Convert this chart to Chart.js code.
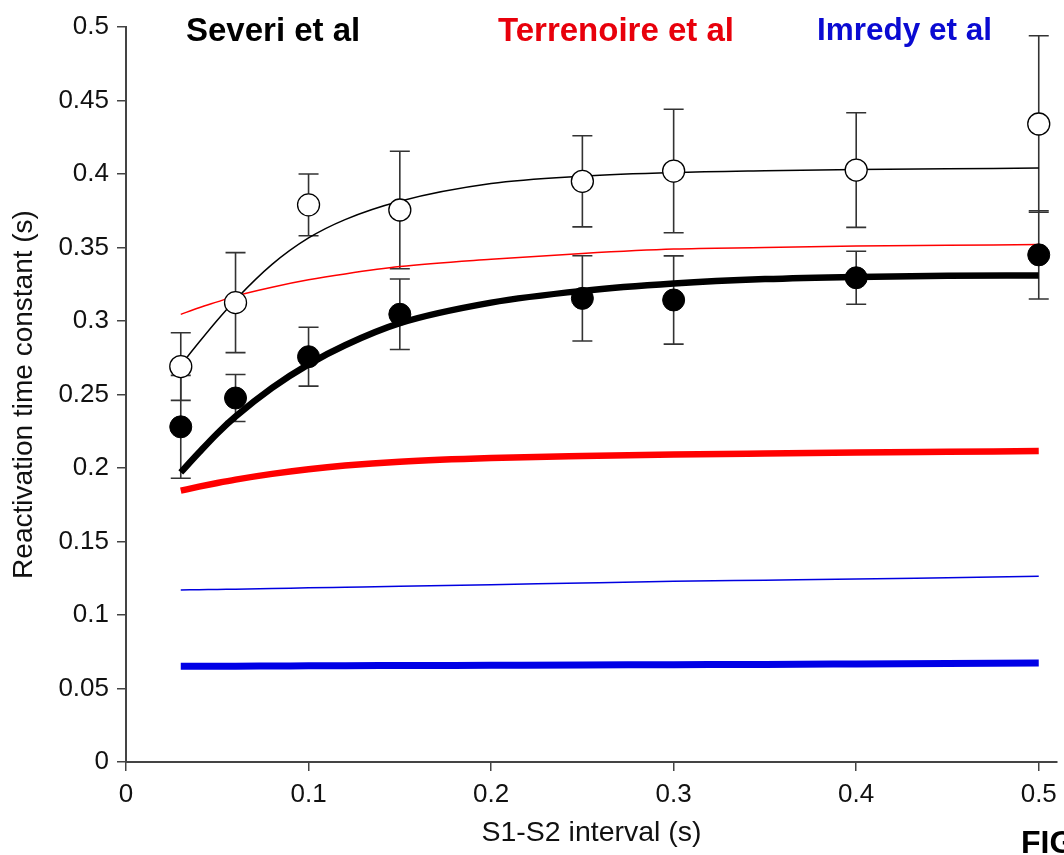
<!DOCTYPE html>
<html>
<head>
<meta charset="utf-8">
<script src="https://cdn.jsdelivr.net/npm/chart.js@4"></script>
<style>
  html, body { margin: 0; padding: 0; background: #fff; overflow: hidden; }
  #wrap { position: relative; width: 1064px; height: 855px; overflow: hidden; }
  .lbl { position: absolute; font: bold 33px "Liberation Sans", Arial, sans-serif; line-height: 33px; white-space: nowrap; }
</style>
</head>
<body>
<div id="wrap">
  <canvas id="chart" width="1064" height="855"></canvas>
  <div class="lbl" style="left:186px;top:13px;color:#000">Severi et al</div>
  <div class="lbl" style="left:498px;top:13px;color:#e8000b">Terrenoire et al</div>
  <div class="lbl" style="left:817px;top:13px;color:#0a0ad2;font-size:31.5px">Imredy et al</div>
  <div class="lbl" style="left:1021px;top:826px;color:#000;font-size:32px">FIG</div>
</div>
<script>
// measured points (S1-S2 interval, s)
const pointX = [0.03, 0.06, 0.1, 0.15, 0.25, 0.3, 0.4, 0.5]
const openMean = [0.269, 0.3125, 0.379, 0.3755, 0.395, 0.402, 0.4027, 0.434]
const openErr = [0.023, 0.034, 0.021, 0.040, 0.031, 0.042, 0.039, 0.060]
const filledMean = [0.228, 0.2476, 0.2757, 0.3046, 0.3154, 0.3143, 0.3294, 0.345]
const filledErr = [0.035, 0.016, 0.020, 0.024, 0.029, 0.030, 0.018, 0.030]

// fitted curves
const fitX = [0.03, 0.04, 0.05, 0.06, 0.08, 0.1, 0.12, 0.15, 0.2, 0.25, 0.3, 0.35, 0.4, 0.45, 0.5]
const severiThin = [0.270, 0.2855, 0.3005, 0.3145, 0.3385, 0.3565, 0.369, 0.3815, 0.3935, 0.3985, 0.401, 0.4022, 0.403, 0.4035, 0.404]
const severiThick = [0.197, 0.2105, 0.2235, 0.235, 0.2545, 0.2705, 0.2835, 0.2985, 0.3125, 0.3205, 0.3255, 0.3285, 0.330, 0.3307, 0.331]
const terrenoireThin = [0.3045, 0.309, 0.313, 0.317, 0.323, 0.328, 0.332, 0.337, 0.342, 0.346, 0.349, 0.350, 0.351, 0.3515, 0.352]
const terrenoireThick = [0.1846, 0.1873, 0.1898, 0.1921, 0.196, 0.1992, 0.2017, 0.2043, 0.2068, 0.2082, 0.2092, 0.2099, 0.2105, 0.211, 0.2115]
const imredyThin = [0.117, 0.1172, 0.1174, 0.1176, 0.118, 0.1185, 0.1189, 0.1195, 0.1206, 0.1218, 0.1229, 0.1237, 0.1245, 0.1254, 0.1263]
const imredyThick = [0.0651, 0.0651, 0.0652, 0.0652, 0.0653, 0.0654, 0.0655, 0.0656, 0.0658, 0.066, 0.0662, 0.0664, 0.0667, 0.067, 0.0673]

const xTicks = [0, 0.1, 0.2, 0.3, 0.4, 0.5]
const yTicks = [0, 0.05, 0.1, 0.15, 0.2, 0.25, 0.3, 0.35, 0.4, 0.45, 0.5]

const pts = (xs, ys) => xs.map((x, i) => ({ x, y: ys[i] }))
const font = "'Liberation Sans', Arial, sans-serif"

const curve = (data, color, width) => ({
  data: pts(fitX, data),
  showLine: true,
  borderColor: color,
  borderWidth: width,
  borderCapStyle: "butt",
  pointRadius: 0,
  cubicInterpolationMode: "monotone",
})

// error bars under the markers
const errorBars = {
  id: "errorBars",
  beforeDatasetsDraw(chart) {
    const { ctx, scales: { x, y } } = chart
    ctx.save()
    ctx.strokeStyle = "#333"
    ctx.lineWidth = 1.6
    ;[[openMean, openErr], [filledMean, filledErr]].forEach(([mean, err]) => {
      mean.forEach((v, i) => {
        const px = x.getPixelForValue(pointX[i])
        const top = y.getPixelForValue(v + err[i])
        const bot = y.getPixelForValue(v - err[i])
        ctx.beginPath()
        ctx.moveTo(px, top); ctx.lineTo(px, bot)
        ctx.moveTo(px - 10, top); ctx.lineTo(px + 10, top)
        ctx.moveTo(px - 10, bot); ctx.lineTo(px + 10, bot)
        ctx.stroke()
      })
    })
    ctx.restore()
  },
}

new Chart(document.querySelector("#chart"), {
  type: "scatter",
  data: {
    datasets: [
      { data: pts(pointX, openMean), pointRadius: 11, pointBackgroundColor: "#fff", pointBorderColor: "#000", pointBorderWidth: 1.3, clip: false },
      { data: pts(pointX, filledMean), pointRadius: 11, pointBackgroundColor: "#000", pointBorderColor: "#000", pointBorderWidth: 1, clip: false },
      curve(severiThin, "#000", 1.5),
      curve(severiThick, "#000", 6.5),
      curve(terrenoireThin, "#f00", 1.5),
      curve(terrenoireThick, "#f00", 6.5),
      curve(imredyThin, "#0000e0", 1.5),
      curve(imredyThick, "#0000e6", 7),
    ],
  },
  options: {
    responsive: false,
    animation: false,
    devicePixelRatio: 1,
    layout: { autoPadding: false, padding: { top: 27, right: 7, left: 0, bottom: 0 } },
    plugins: { legend: { display: false }, tooltip: { enabled: false } },
    scales: {
      x: {
        type: "linear",
        min: 0,
        max: 0.51,
        afterBuildTicks: (s) => { s.ticks = xTicks.map((v) => ({ value: v })) },
        afterFit: (s) => { s.height = 93; s.paddingRight = 0; s.paddingLeft = 0 },
        grid: { drawOnChartArea: false, drawTicks: true, tickLength: 9, color: "#444", lineWidth: 1.5 },
        border: { display: true, color: "#444", width: 2 },
        ticks: { color: "#111", font: { family: font, size: 26 }, padding: 8, callback: (v) => String(v) },
        title: { display: true, text: "S1-S2 interval (s)", color: "#111", font: { family: font, size: 28.5 }, padding: { top: 0, bottom: 5 } },
      },
      y: {
        min: 0,
        max: 0.5,
        afterBuildTicks: (s) => { s.ticks = yTicks.map((v) => ({ value: v })) },
        afterFit: (s) => { s.width = 126 },
        grid: { drawOnChartArea: false, drawTicks: true, tickLength: 9, color: "#444", lineWidth: 1.5 },
        border: { display: true, color: "#444", width: 2 },
        ticks: { color: "#111", font: { family: font, size: 26 }, padding: 8, callback: (v) => String(v) },
        title: { display: true, text: "Reactivation time constant (s)", color: "#111", font: { family: font, size: 28 }, padding: { top: 7, bottom: 0 } },
      },
    },
  },
  plugins: [errorBars],
})
</script>
</body>
</html>
